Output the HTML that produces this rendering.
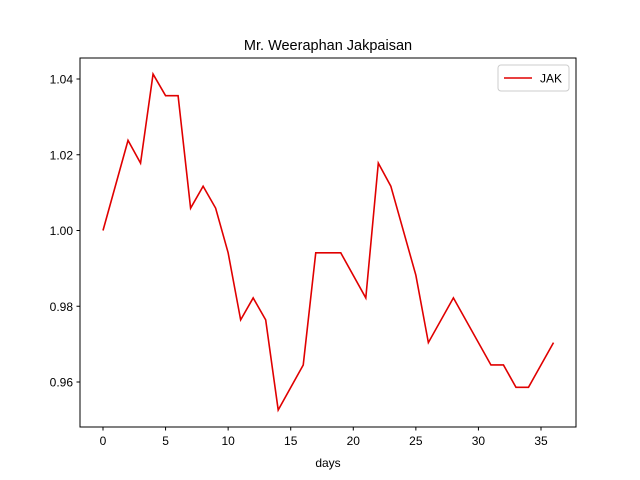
<!DOCTYPE html>
<html><head><meta charset="utf-8"><style>
body{margin:0;background:#fff;}
svg{display:block;font-family:"Liberation Sans","DejaVu Sans",sans-serif;}
</style></head><body>
<svg id="chart" width="640" height="480">
<rect width="640" height="480" fill="#fff"/>
<text x="328" y="50" text-anchor="middle" font-size="14.5">Mr. Weeraphan Jakpaisan</text>
<g id="ticks"></g>
<polyline id="line" fill="none" stroke="#e00000" stroke-width="1.6"/>
<rect x="80" y="58" width="496" height="369" fill="none" stroke="#000" stroke-width="1"/>
<text x="328" y="467" text-anchor="middle" font-size="12">days</text>
<g>
<rect x="498" y="65" width="71" height="26" rx="3" fill="#fff" stroke="#ccc"/>
<line x1="504" y1="78" x2="532" y2="78" stroke="#e00000" stroke-width="1.6"/>
<text x="540" y="82.5" font-size="12">JAK</text>
</g>
</svg>
<script>
const days=[0,2,3,4,5,6,7,8,9,10,11,12,13,14,16,17,19,21,22,23,25,26,28,31,32,33,34,36];
const values=[1.000,1.0238,1.0178,1.0413,1.0356,1.0356,1.0059,1.0117,1.0059,0.9941,0.9764,0.9822,0.9764,0.9526,0.9645,0.9941,0.9941,0.9822,1.0178,1.0117,0.9882,0.9704,0.9822,0.9645,0.9645,0.9586,0.9586,0.9704];
const xTicks=[0,5,10,15,20,25,30,35];
const yTicks=[0.96,0.98,1.00,1.02,1.04];
const yTickLabels=["0.96","0.98","1.00","1.02","1.04"];
const X=d=>103+(d-0)*(541-103)/35;
const Y=v=>382-(v-0.96)*(382-79)/0.08;
const ns="http://www.w3.org/2000/svg";
const g=document.getElementById('ticks');
function mk(t,a){const e=document.createElementNS(ns,t);for(const k in a)e.setAttribute(k,a[k]);g.appendChild(e);return e;}
xTicks.forEach(t=>{
 const l=mk('line',{x1:X(t),x2:X(t),y1:427,y2:430.5,stroke:'#000'});
 
 
 const tx=mk('text',{x:X(t),y:445,'text-anchor':'middle','font-size':'12'});tx.textContent=t;
 
 
});
yTicks.forEach((t,i)=>{
 const l=mk('line',{x1:76.5,x2:80,y1:Y(t),y2:Y(t),stroke:'#000'});
 
 
 const tx=mk('text',{x:73,y:Y(t)+4.5,'text-anchor':'end','font-size':'12'});tx.textContent=yTickLabels[i];
 
 
});
document.getElementById('line').setAttribute('points',days.map((d,i)=>X(d)+','+Y(values[i])).join(' '));
</script>
</body></html>
